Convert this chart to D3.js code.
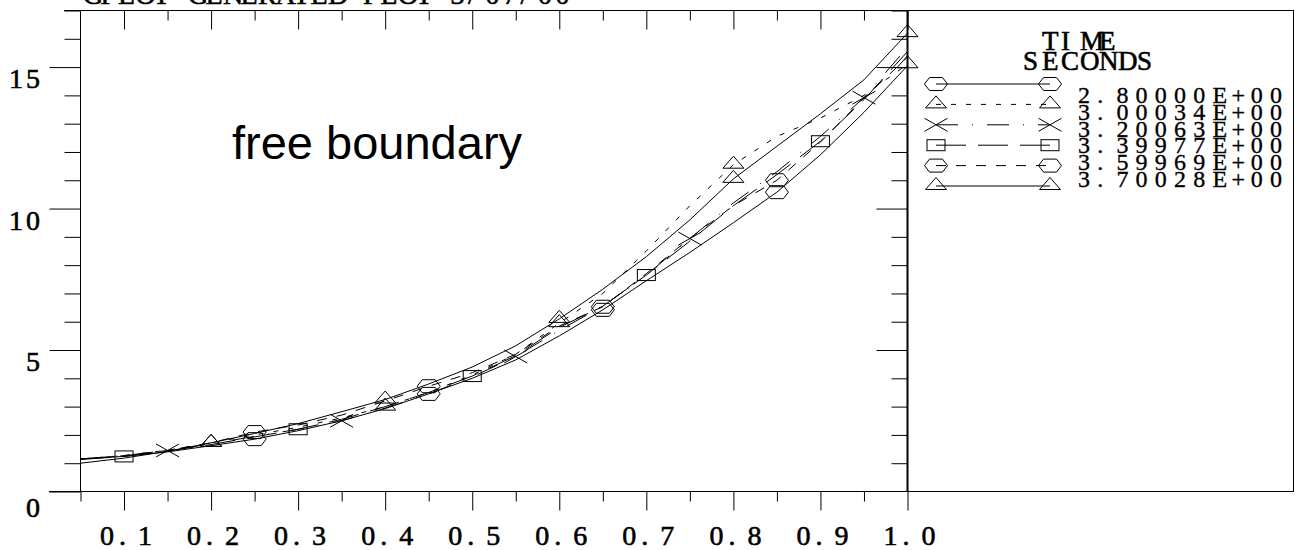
<!DOCTYPE html>
<html><head><meta charset="utf-8">
<script src="https://cdn.jsdelivr.net/npm/d3@7"></script>
<style>body{margin:0;background:#fff;overflow:hidden}</style>
</head><body>
<svg id="c" width="1295" height="550"></svg>
<script>
// ---------- data ----------
const xValues = [0.05,0.10,0.15,0.20,0.25,0.30,0.35,0.40,0.45,0.50,0.55,0.60,0.65,0.70,0.75,0.80,0.85,0.90,0.95,1.00];
const seriesLabels = ["2.80000E+00","3.00034E+00","3.20063E+00","3.39977E+00","3.59969E+00","3.70028E+00"];
const s1 = [1.15,1.24,1.40,1.62,1.85,2.15,2.50,2.93,3.45,4.00,4.65,5.50,6.42,7.45,8.45,9.50,10.58,11.90,13.40,15.05];
const s2 = [1.15,1.27,1.46,1.72,2.00,2.27,2.60,3.00,3.50,4.12,4.85,5.95,7.00,8.50,10.10,11.55,12.55,13.20,14.00,15.10];
const s3 = [1.15,1.27,1.45,1.68,1.95,2.20,2.50,2.95,3.45,4.05,4.77,5.70,6.55,7.65,8.94,10.20,11.30,12.55,13.92,15.70];
const s4 = [1.13,1.24,1.43,1.66,1.93,2.20,2.55,3.00,3.50,4.08,4.80,5.80,6.55,7.65,8.85,10.10,11.20,12.38,13.85,15.55];
const s5 = [1.15,1.27,1.45,1.72,2.10,2.35,2.70,3.20,3.72,4.20,4.85,5.85,6.53,7.70,8.95,10.10,11.00,12.35,13.90,15.35];
const s6 = [1.00,1.18,1.42,1.72,2.05,2.40,2.82,3.25,3.80,4.40,5.15,6.10,7.15,8.30,9.60,11.05,12.20,13.35,14.55,16.20];
const markerX1 = [0.25,0.45,0.65,0.85];
const markerX2 = [0.20,0.40,0.60,0.80,1.00];
const markerX3 = [0.15,0.35,0.55,0.75,0.95];
const markerX4 = [0.10,0.30,0.50,0.70,0.90];
const markerX5 = [0.25,0.45,0.65,0.85];
const markerX6 = [0.20,0.40,0.60,0.80,1.00];
const xMajorTicks = [0.1,0.2,0.3,0.4,0.5,0.6,0.7,0.8,0.9,1.0];
const xMinorTicks = [0.05,0.15,0.25,0.35,0.45,0.55,0.65,0.75,0.85,0.95];
const xTickLabels = ["0.1","0.2","0.3","0.4","0.5","0.6","0.7","0.8","0.9","1.0"];
const yMajorTicks = [0,5,10,15];
const yMinorTicks = [1,2,3,4,6,7,8,9,11,12,13,14,16,17];
const yTickLabels = ["0","5","10","15"];
const legendTitle = ["TIME","SECONDS"];
const titleText = "GPLOT GENERATED PLOT 3/07/00";
const annotationText = "free boundary";

// ---------- styles (not data) ----------
const seriesData = [s1,s2,s3,s4,s5,s6];
const markerXs = [markerX1,markerX2,markerX3,markerX4,markerX5,markerX6];
const shapes = ["hex","tri","x","sq","hex","tri"];
const dashes = [null,"5,10","22,14,1,14","30,12","10,10",null];

const svg = d3.select("#c");
const x = d3.scaleLinear().domain([0.05,1.0]).range([80.5,907.5]);
const y = d3.scaleLinear().domain([0,17]).range([491.5,10.5]);
const serif = "'Liberation Serif', 'DejaVu Serif', serif";

function cellText(str, x0, yy, pitch, size, sw){
  const xs = Array.from(str).map((c,i)=> (x0 + i*pitch).toFixed(1));
  return svg.append("text").attr("x", xs.join(" ")).attr("y", yy)
    .attr("font-family", serif).attr("font-size", size)
    .attr("fill","#000").attr("stroke","#000").attr("stroke-width", sw == null ? 0.6 : sw).text(str);
}

// ---------- frame lines ----------
const line = (x1,y1,x2,y2,w)=> svg.append("line").attr("x1",x1).attr("y1",y1).attr("x2",x2).attr("y2",y2)
  .attr("stroke","#000").attr("stroke-width",w||1);
line(49, y(0), 1294, y(0));           // bottom axis + legend bottom
line(64, y(17), 1294, y(17));         // top frame + legend top
line(x(0.05), y(17), x(0.05), y(0));  // left axis
line(907.5, y(17), 907.5, y(0), 2);   // right frame
line(1293.5, y(17), 1293.5, y(0));    // legend right edge

function axisG(gen, tx, ty){
  const g = svg.append("g").attr("transform",`translate(${tx},${ty})`).call(gen);
  g.select(".domain").remove();
  g.selectAll(".tick line").attr("stroke","#000");
  g.selectAll(".tick text").remove();
  return g;
}
axisG(d3.axisBottom(x).tickValues(xMajorTicks).tickSize(19).tickFormat(""), 0, y(0));
axisG(d3.axisBottom(x).tickValues(xMinorTicks).tickSize(10).tickFormat(""), 0, y(0));
axisG(d3.axisBottom(x).tickValues(xMajorTicks).tickSize(19).tickFormat(""), 0, y(17));
axisG(d3.axisBottom(x).tickValues(xMinorTicks.slice(1)).tickSize(10).tickFormat(""), 0, y(17));
axisG(d3.axisLeft(y).tickValues(yMajorTicks).tickSize(31).tickFormat(""), x(0.05), 0);
axisG(d3.axisLeft(y).tickValues(yMinorTicks).tickSize(16).tickFormat(""), x(0.05), 0);
axisG(d3.axisLeft(y).tickValues(yMajorTicks.slice(1)).tickSize(31).tickFormat(""), 907.5, 0);
axisG(d3.axisLeft(y).tickValues(yMinorTicks).tickSize(16).tickFormat(""), 907.5, 0);

// tick labels (fixed-pitch characters)
xTickLabels.forEach((t,i)=> cellText(t, x(xMajorTicks[i]) - 24, 545, 19, 28));
yTickLabels.forEach((t,i)=>{
  const n = t.length;
  const yy = y(yMajorTicks[i]) + (i===0 ? 25 : 21);
  cellText(t, 40 - 14 - (n-1)*17, yy, 17, 28);
});

// title (cut by top edge)
cellText(titleText, 83, 4, 17.5, 28);

// annotation
svg.append("text").attr("x",232).attr("y",159).attr("font-family","'Liberation Sans', Arial, sans-serif")
  .attr("font-size",47).attr("fill","#000").text(annotationText);

// ---------- markers ----------
function drawMarker(g, shape, cx, cy){
  const st = (sel)=> sel.attr("fill","none").attr("stroke","#000").attr("stroke-width",1);
  if(shape==="hex"){
    const p=[[-11.5,0],[-6.5,-6.5],[6.5,-6.5],[11.5,0],[6.5,6.5],[-6.5,6.5]];
    st(g.append("polygon").attr("points", p.map(d=>[cx+d[0],cy+d[1]].join(",")).join(" ")));
  } else if(shape==="tri"){
    const p=[[-10.5,3.5],[10.5,3.5],[0,-8.5]];
    st(g.append("polygon").attr("points", p.map(d=>[cx+d[0],cy+d[1]].join(",")).join(" ")));
  } else if(shape==="x"){
    st(g.append("path").attr("d",`M${cx-11.5},${cy-6.5}L${cx+11.5},${cy+6.5}M${cx-11.5},${cy+6.5}L${cx+11.5},${cy-6.5}`));
  } else if(shape==="sq"){
    st(g.append("rect").attr("x",cx-9).attr("y",cy-5.5).attr("width",18).attr("height",11));
  }
}

// ---------- series ----------
const lineGen = d3.line().x(d=>x(d[0])).y(d=>y(d[1]));
seriesData.forEach((vals,k)=>{
  const pts = xValues.map((xv,i)=>[xv, vals[i]]);
  const p = svg.append("path").attr("d", lineGen(pts)).attr("fill","none").attr("stroke","#000").attr("stroke-width",1);
  if(dashes[k]) p.attr("stroke-dasharray", dashes[k]);
  const g = svg.append("g");
  markerXs[k].forEach(mx=>{
    const i = xValues.findIndex(v=>Math.abs(v-mx)<1e-9);
    drawMarker(g, shapes[k], x(mx), y(vals[i]));
  });
});

// ---------- legend ----------
cellText(legendTitle[0], 1042, 50, 19, 27);
cellText(legendTitle[1], 1023, 70, 19, 27);
seriesLabels.forEach((lab,k)=>{
  const ry = 84 + k*20.4;
  const l = svg.append("line").attr("x1",936).attr("x2",1050).attr("y1",ry).attr("y2",ry)
    .attr("stroke","#000").attr("stroke-width",1);
  if(dashes[k]) l.attr("stroke-dasharray", dashes[k]);
  const g = svg.append("g");
  drawMarker(g, shapes[k], 936, ry);
  drawMarker(g, shapes[k], 1050, ry);
  cellText(lab, 1078, 103.3 + k*16.7, 19.2, 24, 0.35);
});
</script>
</body></html>
